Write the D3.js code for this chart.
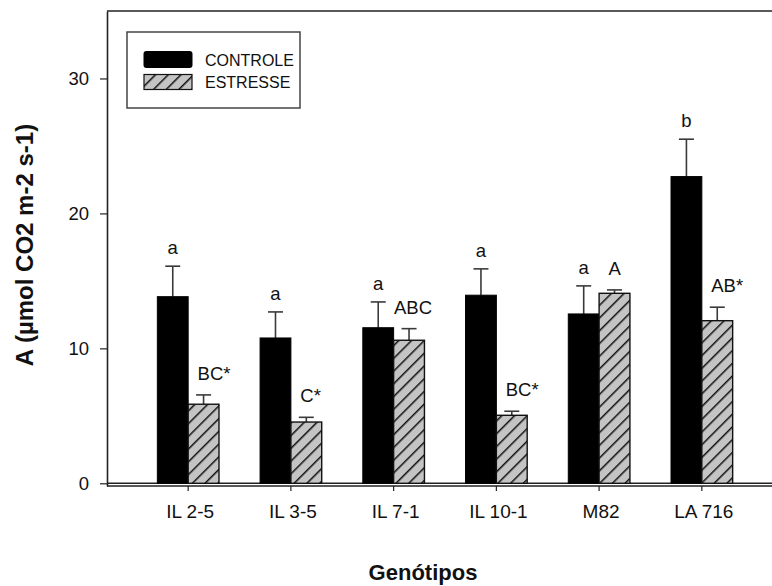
<!DOCTYPE html>
<html>
<head>
<meta charset="utf-8">
<script src="https://cdn.jsdelivr.net/npm/d3@7"></script>
<style>
  html, body { margin: 0; padding: 0; background: #fff; }
  svg { display: block; font-family: "Liberation Sans", Arial, sans-serif; }
</style>
</head>
<body>
<svg id="chart" width="772" height="586"></svg>
<script>
// Net CO2 assimilation per genotype, control vs. stress
const genotypes = ["IL 2-5", "IL 3-5", "IL 7-1", "IL 10-1", "M82", "LA 716"];
const controlMean = [13.83, 10.77, 11.53, 13.94, 12.55, 22.73];
const controlErr  = [2.26, 1.93, 1.91, 1.95, 2.08, 2.77];
const stressMean  = [5.86, 4.54, 10.60, 5.04, 14.08, 12.05];
const stressErr   = [0.69, 0.35, 0.86, 0.30, 0.25, 1.00];
const controlLetters = ["a", "a", "a", "a", "a", "b"];
const stressLetters  = ["BC*", "C*", "ABC", "BC*", "A", "AB*"];
const yTicks = [0, 10, 20, 30];
const seriesNames = ["CONTROLE", "ESTRESSE"];

const svg = d3.select("#chart");
const axisColor = "#222";

// Frame: left axis at 107, top edge at 11; right side runs past the view
const frameLeft = 107, frameRight = 783, frameTop = 11;
const y = d3.scaleLinear().domain([-0.2, 35]).range([486, frameTop]);
const x = d3.scalePoint().domain(genotypes).range([frameLeft, frameRight]).padding(0.79);
const bw = x.step() * 0.3;

// Hatch pattern for stressed bars
const defs = svg.append("defs");
const pat = defs.append("pattern")
  .attr("id", "hatch").attr("patternUnits", "userSpaceOnUse")
  .attr("width", 9).attr("height", 9)
  .attr("patternTransform", "rotate(45)");
pat.append("rect").attr("width", 9).attr("height", 9).attr("fill", "#c4c4c4");
pat.append("line").attr("x1", 0).attr("y1", 0).attr("x2", 0).attr("y2", 9)
  .attr("stroke", "#111").attr("stroke-width", 3);

const rows = genotypes.map((g, i) => ({
  g, c: controlMean[i], ce: controlErr[i], s: stressMean[i], se: stressErr[i],
  cl: controlLetters[i], sl: stressLetters[i]
}));

// Top frame line
svg.append("line").attr("x1", frameLeft).attr("x2", 772).attr("y1", frameTop).attr("y2", frameTop)
  .attr("stroke", axisColor).attr("stroke-width", 1.6);

// Zero reference line
svg.append("line").attr("x1", frameLeft).attr("x2", 772).attr("y1", y(0)).attr("y2", y(0))
  .attr("stroke", axisColor).attr("stroke-width", 1.4);

// Error bars (upper only)
function errBar(cx, v, e) {
  const g = svg.append("g").attr("stroke", "#3a3a3a").attr("stroke-width", 1.6);
  g.append("line").attr("x1", cx).attr("x2", cx).attr("y1", y(v)).attr("y2", y(v + e));
  g.append("line").attr("x1", cx - 7.5).attr("x2", cx + 7.5).attr("y1", y(v + e)).attr("y2", y(v + e));
}
rows.forEach(d => {
  errBar(x(d.g) - bw / 2, d.c, d.ce);
  errBar(x(d.g) + bw / 2, d.s, d.se);
});

// Bars
svg.append("g").selectAll("rect").data(rows).join("rect")
  .attr("x", d => x(d.g) - bw).attr("width", bw)
  .attr("y", d => y(d.c)).attr("height", d => y(0) - y(d.c))
  .attr("fill", "#000").attr("stroke", "#000").attr("stroke-width", 1);
svg.append("g").selectAll("rect").data(rows).join("rect")
  .attr("x", d => x(d.g)).attr("width", bw)
  .attr("y", d => y(d.s)).attr("height", d => y(0) - y(d.s))
  .attr("fill", "url(#hatch)").attr("stroke", "#111").attr("stroke-width", 1.4);

// Significance letters
svg.append("g").selectAll("text").data(rows).join("text")
  .attr("x", d => x(d.g) - bw / 2).attr("y", d => y(d.c + d.ce) - 12)
  .attr("text-anchor", "middle").attr("font-size", 18.5).attr("fill", "#111")
  .text(d => d.cl);
svg.append("g").selectAll("text").data(rows).join("text")
  .attr("x", d => d.sl.replace("*", "").length >= 3 ? x(d.g) + bw / 2 + 4 : x(d.g) + bw / 2 - 6)
  .attr("text-anchor", d => d.sl.replace("*", "").length >= 3 ? "middle" : "start")
  .attr("y", d => y(d.s + d.se) - 15)
  .attr("font-size", 18.5).attr("fill", "#111")
  .text(d => d.sl);

// Bottom axis
const xAxis = svg.append("g").attr("transform", `translate(0,${y(-0.2)})`);
xAxis.append("line").attr("x1", frameLeft).attr("x2", 772).attr("stroke", axisColor).attr("stroke-width", 1.4);
xAxis.selectAll("line.tick").data(genotypes).join("line").attr("class", "tick")
  .attr("x1", d => x(d)).attr("x2", d => x(d)).attr("y1", 0).attr("y2", 5)
  .attr("stroke", axisColor).attr("stroke-width", 1.2);
xAxis.selectAll("text").data(genotypes).join("text")
  .attr("x", d => x(d) + 2).attr("y", 32)
  .attr("text-anchor", "middle").attr("font-size", 19).attr("fill", "#111")
  .text(d => d);

// Left axis
const yAxis = svg.append("g")
  .attr("transform", `translate(${frameLeft},0)`)
  .call(d3.axisLeft(y).tickValues(yTicks).tickSize(7).tickPadding(11).tickSizeOuter(0));
yAxis.select(".domain").attr("stroke", axisColor).attr("stroke-width", 1.6);
yAxis.selectAll(".tick line").attr("stroke", axisColor).attr("stroke-width", 1.2);
yAxis.selectAll(".tick text").attr("font-size", 18.5).attr("fill", "#111")
  .attr("font-family", "Liberation Sans, Arial, sans-serif");

// Axis titles
svg.append("text")
  .attr("transform", "translate(33,245) rotate(-90)")
  .attr("text-anchor", "middle").attr("font-size", 24).attr("font-weight", "bold").attr("fill", "#111")
  .text("A (µmol CO2 m-2 s-1)");
svg.append("text")
  .attr("x", 423).attr("y", 580)
  .attr("text-anchor", "middle").attr("font-size", 22).attr("font-weight", "bold").attr("fill", "#111")
  .text("Genótipos");

// Legend
const lg = svg.append("g");
lg.append("rect").attr("x", 127).attr("y", 32).attr("width", 173).attr("height", 76)
  .attr("fill", "#fff").attr("stroke", "#444").attr("stroke-width", 1.5);
lg.append("rect").attr("x", 143.5).attr("y", 51).attr("width", 49).attr("height", 17).attr("rx", 3)
  .attr("fill", "#000");
lg.append("rect").attr("x", 144).attr("y", 74.5).attr("width", 48).attr("height", 15)
  .attr("fill", "url(#hatch)").attr("stroke", "#111").attr("stroke-width", 1.2);
lg.selectAll("text").data(seriesNames).join("text")
  .attr("x", 205).attr("y", (d, i) => 66 + i * 22)
  .attr("font-size", 16).attr("fill", "#111")
  .text(d => d);
</script>
</body>
</html>
